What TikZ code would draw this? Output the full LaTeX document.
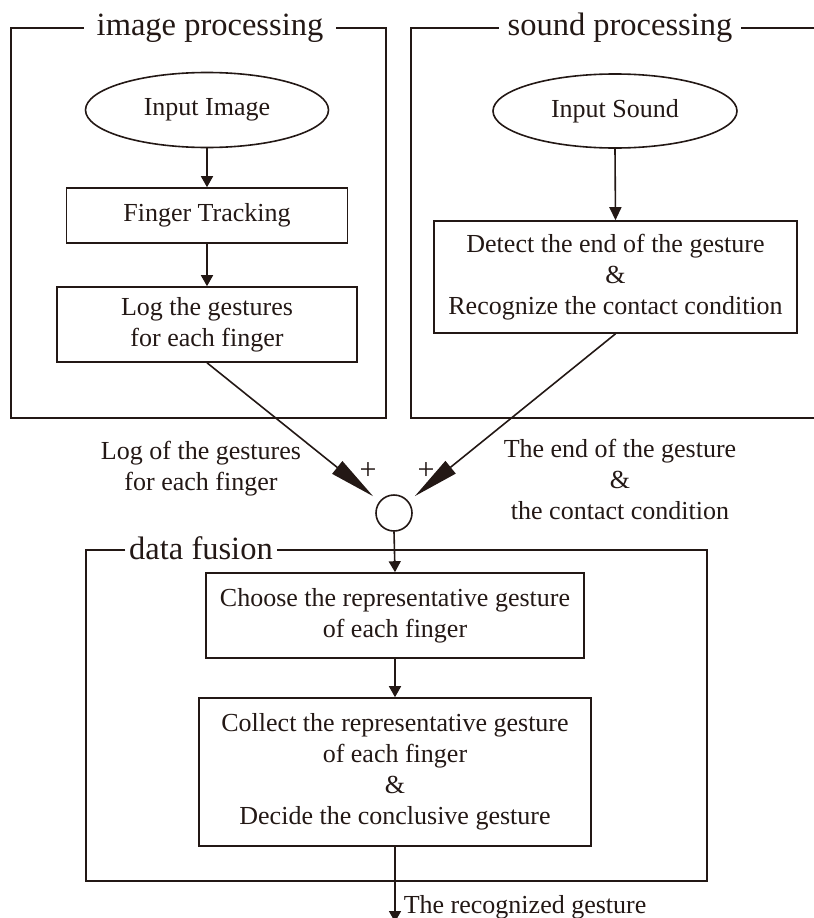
\documentclass[tikz,border=0pt]{standalone}
\usepackage{fontspec}
\setmainfont{Liberation Serif}
\usetikzlibrary{shapes.geometric,arrows.meta}
\definecolor{ink}{HTML}{231815}

\newcommand{\bodyfont}{\fontsize{26bp}{31bp}\selectfont}
\newcommand{\titlefont}{\fontsize{32.5bp}{38bp}\selectfont}

\tikzset{
  txt/.style={font=\bodyfont, inner sep=0pt, align=center},
  stepbox/.style={txt, draw, rectangle},
  startbox/.style={txt, draw, ellipse},
  frametitle/.style={font=\titlefont, inner ysep=0pt, anchor=base},
  signlabel/.style={font=\fontsize{30bp}{30bp}\selectfont, inner sep=0pt},
  flow/.style={-{Triangle[length=11bp,width=12bp]}},
  merge/.style={-{Triangle[length=46bp,width=16bp]}, shorten >=8bp},
}

\begin{document}
\begin{tikzpicture}[x=1bp, y=-1bp, color=ink, line width=1.6bp]
\useasboundingbox (0,0) rectangle (814,918);

% ---------- image processing ----------
\node[frametitle, inner xsep=12bp] (timg) at (210,35) {image processing};
\draw (timg.west |- 0,28) -- (11,28) -- (11,418) -- (386,418) -- (386,28) -- (timg.east |- 0,28);

\node[startbox, minimum width=243bp, minimum height=75bp] (inimg) at (207,110) {Input Image};
\node[stepbox, minimum width=281bp, minimum height=55bp] (track) at (207,215.5) {Finger Tracking};
\node[stepbox, minimum width=300bp, minimum height=75bp] (logbox) at (207,324.5) {Log the gestures\\for each finger};

\draw[flow] (inimg.south) -- (track.north);
\draw[flow] (track.south) -- (logbox.north);

% ---------- sound processing ----------
\node[frametitle, inner xsep=8bp] (tsnd) at (620,35) {sound processing};
\draw (tsnd.west |- 0,28) -- (411,28) -- (411,418) -- (820,418);
\draw (tsnd.east |- 0,28) -- (820,28);

\node[startbox, minimum width=244bp, minimum height=74bp] (insnd) at (615,111) {Input Sound};
\node[stepbox, minimum width=363bp, minimum height=112bp] (sndbox) at (615.5,277)
  {Detect the end of the gesture\\\&\\Recognize the contact condition};

\draw[-{Triangle[length=13bp,width=12bp]}] (insnd.south) -- (sndbox.north);

% ---------- merging point ----------
\node[circle, draw, minimum size=36bp, inner sep=0pt] (sum) at (394,513) {};

\draw[merge] (logbox.south) -- (sum);
\draw[merge] (sndbox.south) -- (sum);

\node[signlabel] (plusl) at (368,471) {+};
\node[signlabel] (plusr) at (426,471) {+};

\node[txt] (lbllog) at (201,469) {Log of the gestures\\for each finger};
\node[txt] (lblend) at (620,479) {The end of the gesture\\\&\\the contact condition};

% ---------- data fusion ----------
\node[frametitle, inner xsep=3bp] (tfus) at (201,559) {data fusion};
\draw (tfus.west |- 0,550) -- (86,550) -- (86,881) -- (707,881) -- (707,550) -- (tfus.east |- 0,550);

\node[stepbox, minimum width=378bp, minimum height=85bp] (choose) at (395,615.5)
  {Choose the representative gesture\\of each finger};
\node[stepbox, minimum width=392bp, minimum height=148bp] (collect) at (395,772)
  {Collect the representative gesture\\of each finger\\\&\\Decide the conclusive gesture};

\draw[flow] (sum.south) -- (choose.north);
\draw[flow] (choose.south) -- (collect.north);

\coordinate (out) at (395,922);
\draw[flow] (collect.south) -- (out);
\node[txt, anchor=base west] (lblout) at (403,913) {The recognized gesture};

\end{tikzpicture}
\end{document}
